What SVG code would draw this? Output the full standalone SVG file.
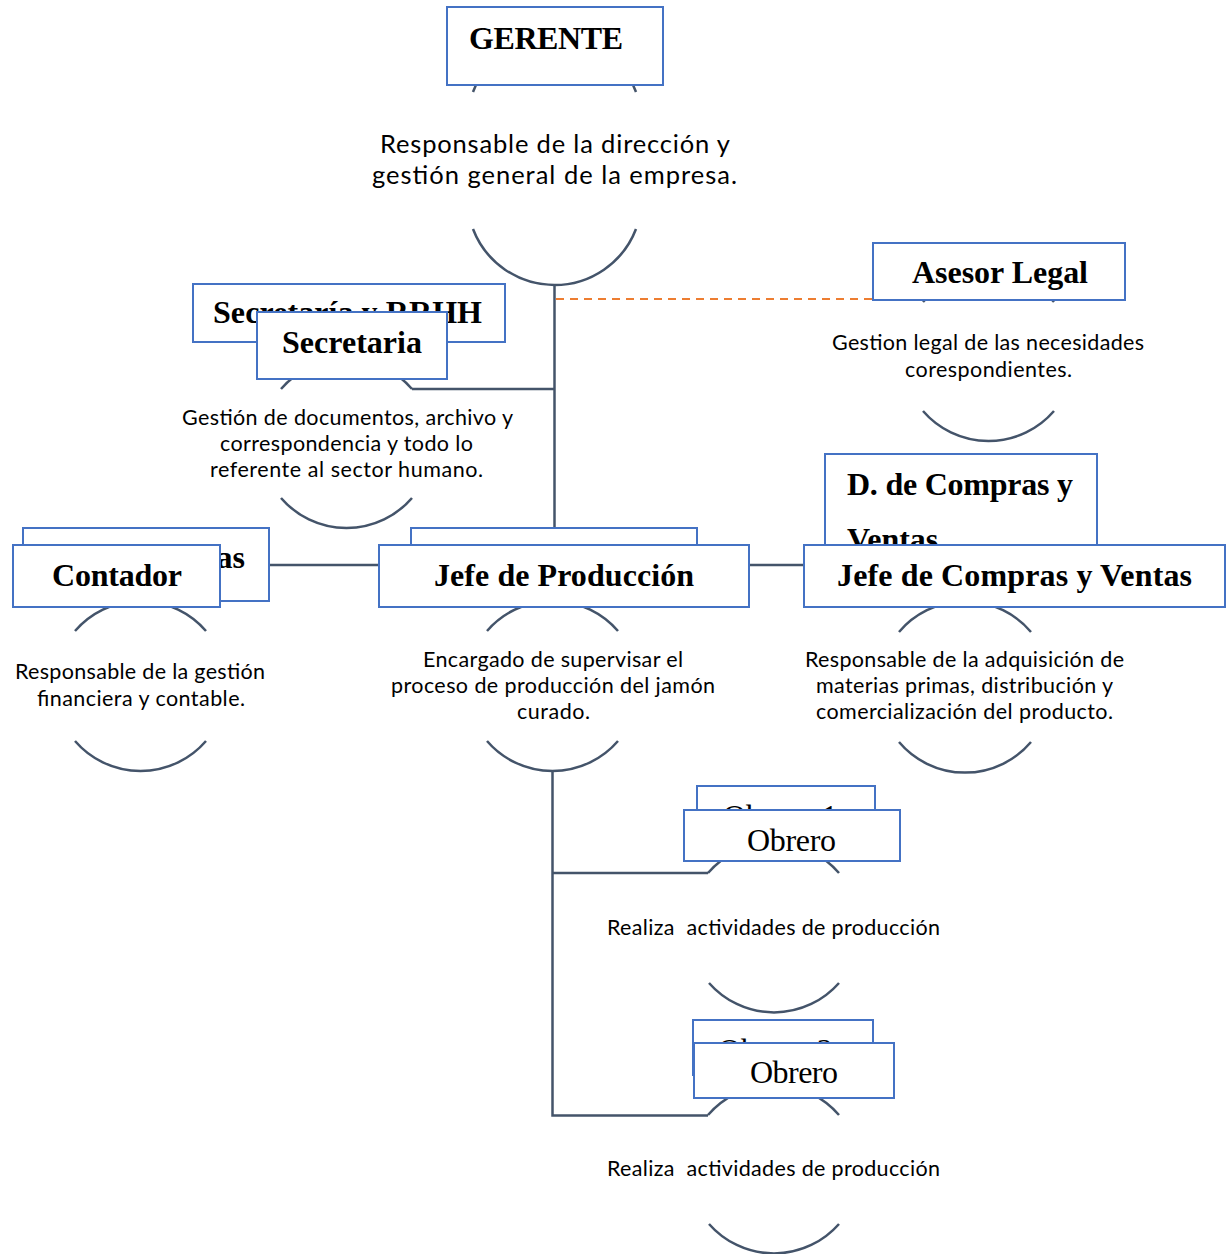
<svg xmlns="http://www.w3.org/2000/svg" width="1232" height="1254" viewBox="0 0 1232 1254">
<style>
.box{fill:#fff;stroke:#4472C4;stroke-width:2}
.arc{fill:none;stroke:#44546A;stroke-width:2.5}
.ln{fill:none;stroke:#44546A;stroke-width:2.5}
.dash{fill:none;stroke:#ED7D31;stroke-width:2;stroke-dasharray:8 6}
.t{font-family:"Liberation Serif","Times New Roman",serif;font-weight:bold;font-size:32px;fill:#000}
.tr{font-family:"Liberation Serif","Times New Roman",serif;font-size:32px;fill:#000}
.d{font-family:Lato,"Open Sans",sans-serif;font-size:21.5px;fill:#000;text-anchor:middle}
.dl{font-family:Lato,"Open Sans",sans-serif;font-size:25.5px;fill:#000;text-anchor:middle}
</style>
<rect width="1232" height="1254" fill="#fff"/>
<g id="arcs">
<path class="arc" d="M473,92 A87.3,87.3 0 0 1 636,92"/>
<path class="arc" d="M473,229 A87.3,87.3 0 0 0 636,229"/>
<path class="arc" d="M281,389 A86.5,86.5 0 0 1 412,389"/>
<path class="arc" d="M281,498 A86.5,86.5 0 0 0 412,498"/>
<path class="arc" d="M923,302 A86.5,86.5 0 0 1 1054,302"/>
<path class="arc" d="M923,411 A86.5,86.5 0 0 0 1054,411"/>
<path class="arc" d="M75,631 A86.5,86.5 0 0 1 206,631"/>
<path class="arc" d="M75,741 A86.5,86.5 0 0 0 206,741"/>
<path class="arc" d="M487,631 A86.5,86.5 0 0 1 618,631"/>
<path class="arc" d="M487,741 A86.5,86.5 0 0 0 618,741"/>
<path class="arc" d="M899,632 A86.5,86.5 0 0 1 1031,632"/>
<path class="arc" d="M899,742 A86.5,86.5 0 0 0 1031,742"/>
<path class="arc" d="M708,873 A86.5,86.5 0 0 1 839,873"/>
<path class="arc" d="M709,983 A86.5,86.5 0 0 0 839,983"/>
<path class="arc" d="M708,1115 A86.5,86.5 0 0 1 839,1115"/>
<path class="arc" d="M709,1224 A86.5,86.5 0 0 0 839,1224"/>
</g>
<g id="connectors">
<path class="ln" d="M554.5,285 V528"/>
<path class="ln" d="M412,389 H554.5"/>
<path class="dash" d="M556,299 H873"/>
<path class="ln" d="M270,565 H379"/>
<path class="ln" d="M750,565 H804"/>
<path class="ln" d="M552.5,771 V1115.5 H708"/>
<path class="ln" d="M552.5,873 H708"/>
</g>
<g id="gerente">
<rect class="box" x="447" y="7" width="216" height="78"/>
<text class="t" x="469" y="49" textLength="154">GERENTE</text>
<text class="dl" x="555" y="153" textLength="350">Responsable de la dirección y</text>
<text class="dl" x="554.5" y="184" textLength="365">gestión general de la empresa.</text>
</g>
<g id="secretaria">
<rect class="box" x="193" y="284" width="312" height="58"/>
<text class="t" x="213" y="323" textLength="269">Secretaría y RRHH</text>
<rect class="box" x="257" y="312" width="190" height="67"/>
<text class="t" x="282" y="353" textLength="140">Secretaria</text>
<text class="d" x="347.5" y="425" textLength="331">Gestión de documentos, archivo y</text>
<text class="d" x="346.5" y="451" textLength="253">correspondencia y todo lo</text>
<text class="d" x="346.5" y="477" textLength="273">referente al sector humano.</text>
</g>
<g id="asesor">
<rect class="box" x="873" y="243" width="252" height="57"/>
<text class="t" x="912" y="283" textLength="176">Asesor Legal</text>
<text class="d" x="988" y="350" textLength="312">Gestion legal de las necesidades</text>
<text class="d" x="988.5" y="377" textLength="167">corespondientes.</text>
</g>
<g id="contador">
<rect class="box" x="23" y="528" width="246" height="73"/>
<text class="t" x="245" y="568" text-anchor="end">D. de Finanzas</text>
<rect class="box" x="13" y="545" width="207" height="62"/>
<text class="t" x="52" y="586" textLength="130">Contador</text>
<text class="d" x="140" y="679" textLength="250">Responsable de la gestión</text>
<text class="d" x="141" y="706" textLength="208">financiera y contable.</text>
</g>
<g id="produccion">
<rect class="box" x="411" y="528" width="286" height="40"/>
<rect class="box" x="379" y="545" width="370" height="62"/>
<text class="t" x="434" y="586" textLength="260">Jefe de Producción</text>
<text class="d" x="553" y="667" textLength="260">Encargado de supervisar el</text>
<text class="d" x="553" y="693" textLength="324">proceso de producción del jamón</text>
<text class="d" x="553.5" y="719" textLength="73">curado.</text>
</g>
<g id="compras">
<rect class="box" x="825" y="454" width="272" height="110"/>
<text class="t" x="847" y="495" textLength="226">D. de Compras y</text>
<text class="t" x="847" y="550">Ventas</text>
<rect class="box" x="804" y="545" width="421" height="62"/>
<text class="t" x="837" y="586" textLength="355">Jefe de Compras y Ventas</text>
<text class="d" x="964.5" y="667" textLength="319">Responsable de la adquisición de</text>
<text class="d" x="964.5" y="693" textLength="297">materias primas, distribución y</text>
<text class="d" x="964.5" y="719" textLength="297">comercialización del producto.</text>
</g>
<g id="obrero1">
<rect class="box" x="697" y="786" width="178" height="55"/>
<text class="tr" x="723" y="827">Obrero 1</text>
<rect class="box" x="684" y="810" width="216" height="51"/>
<text class="tr" x="747" y="851" textLength="89">Obrero</text>
<text class="d" x="773.5" y="935" textLength="333" xml:space="preserve">Realiza  actividades de producción</text>
</g>
<g id="obrero2">
<rect class="box" x="693" y="1020" width="180" height="55"/>
<text class="tr" x="718" y="1061">Obrero 2</text>
<rect class="box" x="694" y="1043" width="200" height="55"/>
<text class="tr" x="750" y="1083" textLength="88">Obrero</text>
<text class="d" x="773.5" y="1176" textLength="333" xml:space="preserve">Realiza  actividades de producción</text>
</g>
</svg>
